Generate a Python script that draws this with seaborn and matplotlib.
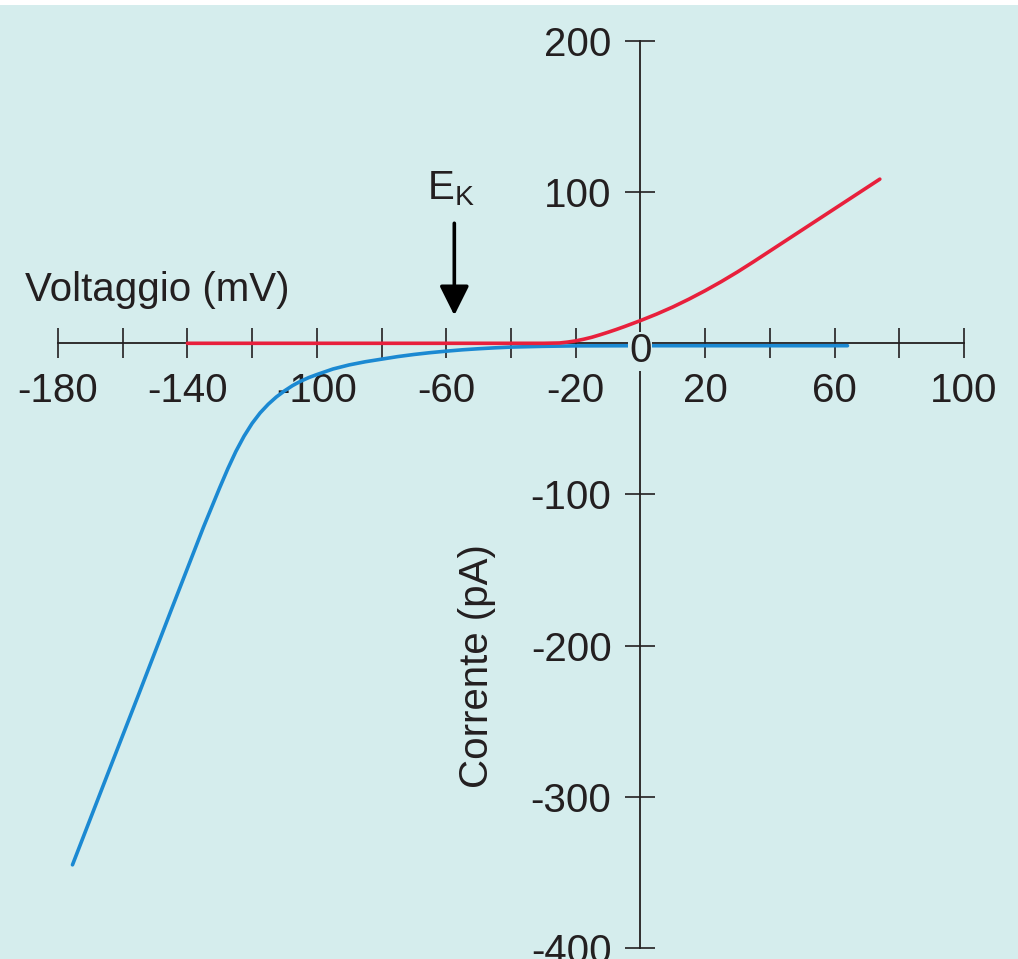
import matplotlib
matplotlib.use('Agg')
import matplotlib.pyplot as plt
from matplotlib.patches import Rectangle
import seaborn as sns
import pandas as pd

# voltage (mV) / current (pA)
v_red = [-140, -120, -100, -80, -60, -40, -30, -25, -22.5, -20, -17.5, -15, -12.5,
         -10, -7.5, -5, -2.5, 0, 5, 10, 15, 20, 25, 30, 35, 40, 45, 50, 55,
         60, 65, 70, 74]
i_red = [0, 0, 0, 0, 0, 0, 0, 0.2, 0.8, 1.6, 2.7, 4, 5.6,
         7.3, 9.1, 11, 13, 15, 19.3, 24, 29.2, 34.8, 40.8, 47.2, 54, 61, 68, 75, 82,
         89, 96, 103, 108.6]

v_blue = [-175.5, -165, -155, -145, -140, -135, -130, -127.5, -125, -122.5, -120,
          -117.5, -115, -112.5, -110, -107.5, -105, -102.5, -100, -95, -90, -85,
          -80, -75, -70, -65, -60, -55, -50, -45, -40, -30, -20, 0, 20, 40, 64]
i_blue = [-345, -287, -232, -176.5, -149, -121.5, -95.5, -83, -71.5, -61.5, -53,
          -46, -40.3, -35.5, -31.5, -28, -25.1, -22.7, -20.7, -17, -14.3, -12.2,
          -10.5, -8.8, -7.4, -6.2, -5.2, -4.3, -3.6, -3, -2.5, -2, -1.7, -1.6, -1.6, -1.6, -1.6]

x_ticks = [-180, -160, -140, -120, -100, -80, -60, -40, -20, 20, 40, 60, 80, 100]
x_labels = ['-180', '', '-140', '', '-100', '', '-60', '', '-20', '20', '', '60', '', '100']
y_ticks = [200, 100, -100, -200, -300, -400]
y_labels = ['200', '100', '-100', '-200', '-300', '-400']
E_K = -57.5

bg = '#d5eded'
ink = '#231f20'
fs = 29

sns.set_style('white')
plt.rcParams['font.family'] = ['Liberation Sans', 'DejaVu Sans']
plt.rcParams['mathtext.fontset'] = 'custom'
plt.rcParams['mathtext.rm'] = 'Liberation Sans'

red = pd.DataFrame({'v': v_red, 'i': i_red})
blue = pd.DataFrame({'v': v_blue, 'i': i_blue})

fig = plt.figure(figsize=(10.18, 9.59), dpi=100, facecolor=bg)
ax = fig.add_axes([0, 0, 1, 1])
ax.set_facecolor(bg)

sns.lineplot(data=blue, x='v', y='i', ax=ax, color='#1b89d2', lw=2.6,
             estimator=None, sort=False, zorder=3)
sns.lineplot(data=red, x='v', y='i', ax=ax, color='#e8203c', lw=2.6,
             estimator=None, sort=False, zorder=4)

ax.set_xlim(-197.9, 116.7)
ax.set_ylim(-407.3, 227.1)

for s in ['top', 'right']:
    ax.spines[s].set_visible(False)
ax.spines['left'].set_position(('data', 0))
ax.spines['bottom'].set_position(('data', 0))
ax.spines['bottom'].set_bounds(-180, 100)
ax.spines['left'].set_bounds(-400, 200)
for s in ['left', 'bottom']:
    ax.spines[s].set_color(ink)
    ax.spines[s].set_linewidth(1.3)

ax.set_xticks(x_ticks)
ax.set_xticklabels(x_labels)
ax.set_yticks(y_ticks)
ax.set_yticklabels(y_labels)
ax.tick_params(axis='both', direction='inout', length=21.5, width=1.2,
               bottom=True, left=True, color=ink, labelcolor=ink, labelsize=fs)
ax.tick_params(axis='x', pad=10)
ax.tick_params(axis='y', pad=10)
for t in ax.xaxis.get_ticklines() + ax.yaxis.get_ticklines():
    t.set_zorder(5)

ax.text(0, -5.3, '0', ha='center', va='center', fontsize=fs, color=ink,
        zorder=5, bbox=dict(facecolor=bg, edgecolor='none', pad=0.5))

ax.set_xlabel('Voltaggio (mV)', fontsize=fs, color=ink, ha='left')
ax.xaxis.set_label_coords(25 / 1018, 1 - 290 / 959)
ax.xaxis.label.set_va('center')
ax.set_ylabel('Corrente (pA)', fontsize=fs, color=ink)
ax.yaxis.set_label_coords(477 / 1018, 1 - 666 / 959)
ax.yaxis.label.set_va('center')

ax.annotate('', xy=(E_K, 18.5), xytext=(E_K, 79.4),
            arrowprops=dict(arrowstyle='-|>,head_length=0.9,head_width=0.45',
                            mutation_scale=20, lw=2.6, color='black',
                            shrinkA=0, shrinkB=0))
ax.text(E_K - 1, 95.3, r'E$_\mathrm{K}$', ha='center', va='baseline',
        fontsize=fs, color=ink)

fig.add_artist(Rectangle((0, 1 - 5 / 959), 1, 5 / 959, transform=fig.transFigure,
                         facecolor='white', edgecolor='none'))

fig.savefig('out.png', dpi=100, facecolor=bg)
